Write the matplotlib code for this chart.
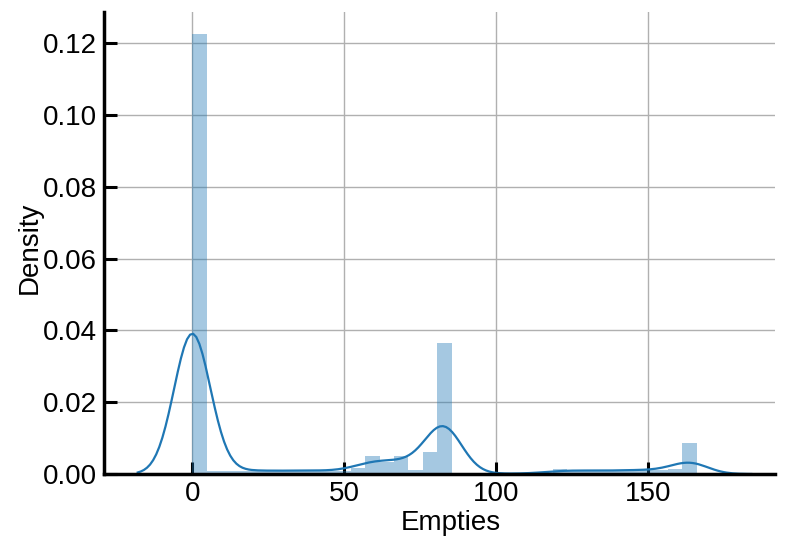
import numpy as np
import matplotlib
matplotlib.use("Agg")
import matplotlib.pyplot as plt

# Distinct "Empties" values and how often each occurs
empties_values = np.array([
    0, 7, 12, 17, 21, 26, 31, 36, 40, 45, 50,
    55, 59, 64, 69, 73, 78, 83,
    87, 92, 97, 102, 107, 111, 116, 121,
    126, 130, 135, 140, 145, 149, 154, 159, 164, 166,
])
empties_counts = np.array([
    23294, 171, 171, 182, 182, 182, 182, 182, 182, 182, 182,
    342, 950, 646, 950, 209, 1178, 6916,
    76, 38, 19, 19, 19, 19, 76, 247,
    172, 172, 191, 191, 210, 210, 210, 247, 1633, 1,
])

n_bins = 35
x_ticks = [0, 50, 100, 150]
y_ticks = [0.00, 0.02, 0.04, 0.06, 0.08, 0.10, 0.12]

plt.rcParams["font.family"] = ["Liberation Sans", "DejaVu Sans"]

fig = plt.figure(figsize=(7.9, 5.41), dpi=100)
ax = fig.add_axes([0.1316, 0.1238, 0.8494, 0.8542])
ax.set_axisbelow(True)
ax.grid(True, color="#b0b0b0", linewidth=1.0)

# Histogram (density scale)
ax.hist(empties_values, bins=n_bins, weights=empties_counts, density=True,
        color="C0", alpha=0.4, linewidth=0)

# Gaussian KDE with Scott's bandwidth
n = empties_counts.sum()
mean = np.sum(empties_counts * empties_values) / n
var = np.sum(empties_counts * (empties_values - mean) ** 2) / (n - 1)
bw = np.sqrt(var) * n ** (-1 / 5)
grid = np.linspace(empties_values.min() - 3 * bw, empties_values.max() + 3 * bw, 200)
z = (grid[:, None] - empties_values[None, :]) / bw
kde = (np.exp(-0.5 * z ** 2) * empties_counts[None, :]).sum(axis=1) / (n * bw * np.sqrt(2 * np.pi))
ax.plot(grid, kde, color="C0", linewidth=1.6)

ax.set_xlim(-29, 191.7)
ax.set_ylim(0, 0.1287)
ax.set_xticks(x_ticks)
ax.set_yticks(y_ticks)
ax.set_yticklabels([f"{v:.2f}" for v in y_ticks])

for side in ("top", "right"):
    ax.spines[side].set_visible(False)
for side in ("left", "bottom"):
    ax.spines[side].set_linewidth(2.5)
    ax.spines[side].set_color("black")

ax.tick_params(axis="both", direction="in", length=9, width=2.2,
               labelsize=20, pad=5, color="black")

ax.set_xlabel("Empties", fontsize=20, labelpad=2)
ax.set_ylabel("Density", fontsize=20, labelpad=0)
ax.xaxis.label.set_x(0.517)
ax.yaxis.label.set_y(0.489)

fig.savefig("out.png", dpi=100)
